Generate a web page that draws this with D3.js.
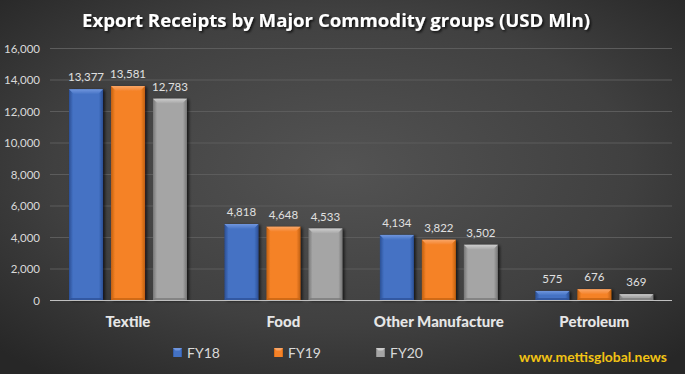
<!DOCTYPE html>
<html><head><meta charset="utf-8">
<script src="https://cdn.jsdelivr.net/npm/d3@7"></script>
<style>html,body{margin:0;padding:0;background:#333;}svg{display:block;}</style>
</head><body>
<svg id="c" width="685" height="374"></svg>
<script>
const categories = ["Textile", "Food", "Other Manufacture", "Petroleum"];
const seriesNames = ["FY18", "FY19", "FY20"];
const fy18 = [13377, 4818, 4134, 575];
const fy19 = [13581, 4648, 3822, 676];
const fy20 = [12783, 4533, 3502, 369];
const yTicks = [0, 2000, 4000, 6000, 8000, 10000, 12000, 14000, 16000];
const titleText = "Export Receipts by Major Commodity groups (USD Mln)";
const watermark = "www.mettisglobal.news";

const seriesValues = [fy18, fy19, fy20];
const palette = [
  {base:"#4472c4", light:"#7096de", dark:"#2b4f94"},
  {base:"#f58228", light:"#f9a566", dark:"#c0600f"},
  {base:"#a5a5a5", light:"#cdcdcd", dark:"#767676"}
];

const W = 685, H = 374;
const svg = d3.select("#c");
const defs = svg.append("defs");

const bg = defs.append("radialGradient").attr("id","bg").attr("cx","50%").attr("cy","45%").attr("r","70%");
bg.append("stop").attr("offset","0%").attr("stop-color","#535353");
bg.append("stop").attr("offset","60%").attr("stop-color","#404040");
bg.append("stop").attr("offset","100%").attr("stop-color","#272727");
svg.append("rect").attr("width",W).attr("height",H).attr("fill","url(#bg)");

const f = defs.append("filter").attr("id","sh").attr("x","-30%").attr("y","-30%").attr("width","160%").attr("height","160%");
f.append("feDropShadow").attr("dx",2).attr("dy",1).attr("stdDeviation",1.6).attr("flood-color","#000").attr("flood-opacity",0.65);
const ts = defs.append("filter").attr("id","tsh").attr("x","-10%").attr("y","-30%").attr("width","120%").attr("height","160%");
ts.append("feDropShadow").attr("dx",1.5).attr("dy",1.5).attr("stdDeviation",1.2).attr("flood-color","#000").attr("flood-opacity",0.8);

palette.forEach((p,i)=>{
  const g = defs.append("linearGradient").attr("id","body"+i).attr("x1","0").attr("x2","1").attr("y1","0").attr("y2","0");
  [[0,p.dark],[0.12,p.base],[0.5,p.base],[0.88,p.base],[1,p.dark]].forEach(s=>g.append("stop").attr("offset",s[0]).attr("stop-color",s[1]));
  const t = defs.append("linearGradient").attr("id","top"+i).attr("x1","0").attr("x2","0").attr("y1","0").attr("y2","1");
  t.append("stop").attr("offset",0).attr("stop-color",p.light);
  t.append("stop").attr("offset",1).attr("stop-color",p.base);
});

const x0 = d3.scaleBand().domain(categories).range([50.25, 672]).paddingInner(0).paddingOuter(0);
const x1 = d3.scaleBand().domain(seriesNames).range([18.75, 136.75]).paddingInner(0.19).paddingOuter(0);
const y = d3.scaleLinear().domain([0,16000]).range([300, 48]);

svg.append("g").selectAll("line").data(yTicks.filter(d=>d>0)).join("line")
  .attr("x1",50).attr("x2",672).attr("y1",d=>y(d)+0.5).attr("y2",d=>y(d)+0.5)
  .attr("stroke","#5c5c5c").attr("stroke-width",1);

const yAxis = d3.axisLeft(y).tickValues(yTicks).tickFormat(d3.format(",")).tickSize(0).tickPadding(0);
const ya = svg.append("g").attr("transform","translate(40,0)").call(yAxis);
ya.select(".domain").remove();
ya.selectAll("text").attr("fill","#d9d9d9").attr("font-family","Lato, 'Open Sans', sans-serif").attr("font-size",11.5).attr("dy","0.35em");

function bevelBar(g, x, yy, w, h, i){
  const b = Math.min(5, h/2);
  const gg = g.append("g").attr("filter","url(#sh)");
  gg.append("rect").attr("x",x).attr("y",yy).attr("width",w).attr("height",h).attr("fill","url(#body"+i+")");
  gg.append("polygon").attr("points",[[x,yy],[x+w,yy],[x+w-b,yy+b],[x+b,yy+b]].map(p=>p.join(",")).join(" "))
    .attr("fill","url(#top"+i+")");
  const s = Math.min(2,b);
  gg.append("polygon").attr("points",[[x,yy+h],[x+w,yy+h],[x+w-s,yy+h-s],[x+s,yy+h-s]].map(p=>p.join(",")).join(" "))
    .attr("fill",palette[i].dark).attr("opacity",0.7);
}
const barsG = svg.append("g");
categories.forEach((c,ci)=>{
  seriesNames.forEach((s,si)=>{
    const v = seriesValues[si][ci];
    const bx = x0(c) + x1(s);
    const by = y(v);
    bevelBar(barsG, bx, by, x1.bandwidth(), y(0)-by, si);
    svg.append("text").attr("x", bx + x1.bandwidth()/2).attr("y", by - 8)
      .attr("text-anchor","middle").attr("fill","#e0e0e0")
      .attr("font-family","Lato, 'Open Sans', sans-serif").attr("font-size",11.5)
      .text(d3.format(",")(v));
  });
});

svg.append("line").attr("x1",50).attr("x2",672).attr("y1",300.5).attr("y2",300.5).attr("stroke","#bfbfbf").attr("stroke-width",1);

svg.append("g").selectAll("text").data(categories).join("text")
  .attr("x",d=>x0(d)+x0.bandwidth()/2).attr("y",327)
  .attr("text-anchor","middle").attr("fill","#e6e6e6")
  .attr("font-family","Lato, 'Open Sans', sans-serif").attr("font-weight","900").attr("font-size",15)
  .text(d=>d);

svg.append("text").attr("x",336).attr("y",27).attr("text-anchor","middle")
  .attr("fill","#ffffff").attr("font-family","'Open Sans', Lato, sans-serif").attr("font-weight","bold")
  .attr("font-size",18).attr("filter","url(#tsh)")
  .attr("textLength",508).attr("lengthAdjust","spacingAndGlyphs")
  .text(titleText);

const legX = [173, 274, 376];
seriesNames.forEach((s,i)=>{
  const lg = svg.append("g").attr("transform",`translate(${legX[i]},348)`);
  lg.append("rect").attr("width",9).attr("height",9).attr("fill","url(#body"+i+")");
  lg.append("polygon").attr("points","0,0 9,0 6.5,2.5 2.5,2.5").attr("fill",palette[i].light);
  lg.append("text").attr("x",14).attr("y",9.5).attr("fill","#d9d9d9")
    .attr("font-family","Lato, 'Open Sans', sans-serif").attr("font-size",14).text(s);
});

svg.append("text").attr("x",519).attr("y",362).attr("fill","#f2c314")
  .attr("font-family","Lato, 'Open Sans', sans-serif").attr("font-weight","bold").attr("font-size",14)
  .attr("textLength",148).attr("lengthAdjust","spacingAndGlyphs")
  .text(watermark);
</script>
</body></html>
